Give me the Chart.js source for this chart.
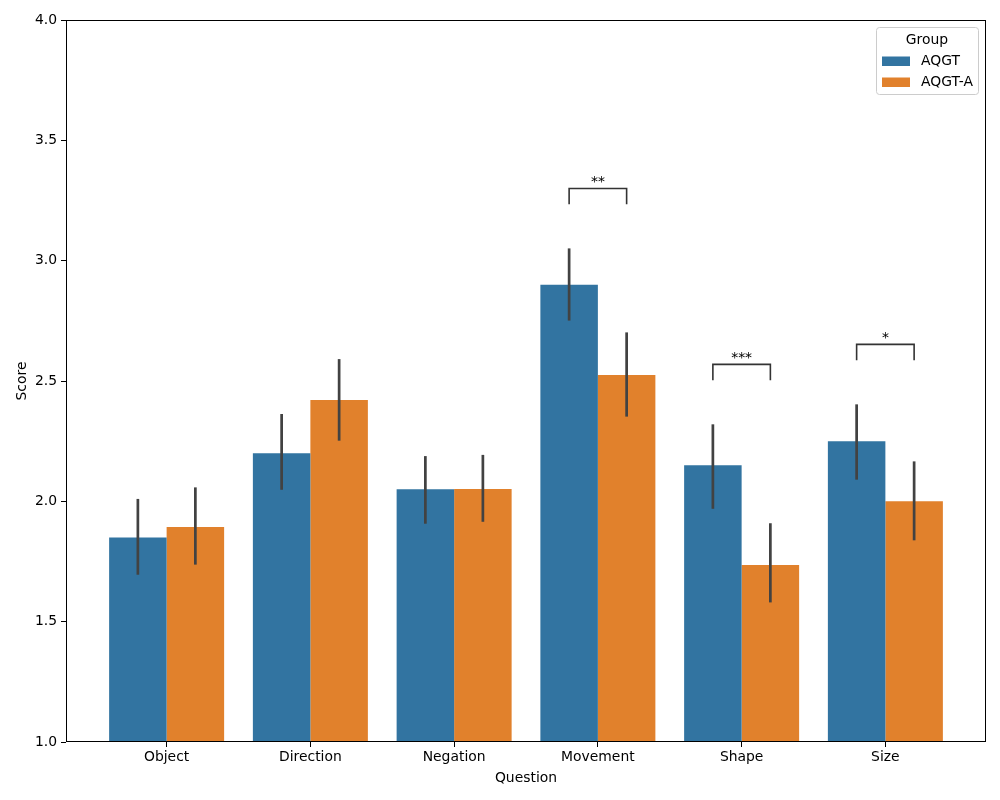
<!DOCTYPE html>
<html>
<head>
<meta charset="utf-8">
<script src="https://cdn.jsdelivr.net/npm/chart.js@4"></script>
<style>html,body{margin:0;padding:0;background:#fff;}canvas{display:block;}</style>
</head>
<body>
<canvas id="c" width="1000" height="800"></canvas>
<script>
const categories = ['Object', 'Direction', 'Negation', 'Movement', 'Shape', 'Size'];
const groupNames = ['AQGT', 'AQGT-A'];
const aqgtMean = [1.85, 2.20, 2.05, 2.90, 2.15, 2.25];
const aqgtLow  = [1.695, 2.048, 1.907, 2.751, 1.969, 2.090];
const aqgtHigh = [2.010, 2.363, 2.188, 3.051, 2.320, 2.403];
const aqgtaMean = [1.893, 2.421, 2.051, 2.525, 1.735, 2.00];
const aqgtaLow  = [1.737, 2.252, 1.915, 2.352, 1.580, 1.838];
const aqgtaHigh = [2.058, 2.591, 2.193, 2.702, 1.909, 2.166];
const sigCategories = ['Movement', 'Shape', 'Size'];
const sigLabels = ['**', '***', '*'];
const yTicks = [1.0, 1.5, 2.0, 2.5, 3.0, 3.5, 4.0];

const BLUE = '#3274a1', ORANGE = '#e1812c';
const FONT = 'DejaVu Sans';
const FS = 13.9;

const overlay = {
  id: 'overlay',
  afterDatasetsDraw(chart) {
    const ctx = chart.ctx, ys = chart.scales.y;
    const lows = [aqgtLow, aqgtaLow], highs = [aqgtHigh, aqgtaHigh];
    ctx.save();
    // error bars
    ctx.strokeStyle = '#424242';
    ctx.lineWidth = 2.7;
    ctx.lineCap = 'butt';
    for (let d = 0; d < 2; d++) {
      const meta = chart.getDatasetMeta(d);
      meta.data.forEach((bar, j) => {
        ctx.beginPath();
        ctx.moveTo(bar.x, ys.getPixelForValue(lows[d][j]));
        ctx.lineTo(bar.x, ys.getPixelForValue(highs[d][j]));
        ctx.stroke();
      });
    }
    // significance brackets
    ctx.strokeStyle = '#333333';
    ctx.lineWidth = 1.6;
    ctx.fillStyle = '#000';
    ctx.font = FS + 'px "' + FONT + '"';
    ctx.textAlign = 'center';
    ctx.textBaseline = 'alphabetic';
    sigCategories.forEach((cat, k) => {
      const j = categories.indexOf(cat);
      const x1 = chart.getDatasetMeta(0).data[j].x;
      const x2 = chart.getDatasetMeta(1).data[j].x;
      const top = Math.max(aqgtHigh[j], aqgtaHigh[j]);
      const yb = ys.getPixelForValue(top + 0.183);
      const yt = ys.getPixelForValue(top + 0.249);
      ctx.beginPath();
      ctx.moveTo(x1, yb); ctx.lineTo(x1, yt); ctx.lineTo(x2, yt); ctx.lineTo(x2, yb);
      ctx.stroke();
      ctx.fillText(sigLabels[k], (x1 + x2) / 2, yt - 2.5);
    });
    ctx.restore();
  },
  afterDraw(chart) {
    const ctx = chart.ctx, a = chart.chartArea;
    ctx.save();
    // frame
    ctx.strokeStyle = '#000';
    ctx.lineWidth = 1;
    ctx.strokeRect(Math.round(a.left) + 0.5, Math.round(a.top) + 0.5, Math.round(a.right - a.left) - 1, Math.round(a.bottom - a.top) - 1);
    // legend
    const lx = a.right - 110, ly = a.top + 7, lw = 102, lh = 67;
    ctx.fillStyle = 'rgba(255,255,255,0.8)';
    ctx.strokeStyle = '#cccccc';
    ctx.lineWidth = 1;
    ctx.beginPath();
    ctx.roundRect(lx + 0.5, ly + 0.5, lw, lh, 3);
    ctx.fill(); ctx.stroke();
    ctx.fillStyle = '#000';
    ctx.font = FS + 'px "' + FONT + '"';
    ctx.textAlign = 'center';
    ctx.textBaseline = 'middle';
    ctx.fillText('Group', lx + lw / 2, ly + 13);
    const cols = [BLUE, ORANGE];
    ctx.textAlign = 'left';
    groupNames.forEach((g, i) => {
      const ey = ly + 34 + i * 21;
      ctx.fillStyle = cols[i];
      ctx.fillRect(lx + 6, ey - 4.5, 28, 9.5);
      ctx.fillStyle = '#000';
      ctx.fillText(g, lx + 45, ey);
    });
    ctx.restore();
  }
};

new Chart(document.getElementById('c'), {
  type: 'bar',
  data: {
    datasets: [
      { label: groupNames[0], data: aqgtMean.map((v, i) => ({ x: i, y: v })), backgroundColor: BLUE, borderWidth: 0 },
      { label: groupNames[1], data: aqgtaMean.map((v, i) => ({ x: i, y: v })), backgroundColor: ORANGE, borderWidth: 0 }
    ]
  },
  options: {
    responsive: false,
    animation: false,
    devicePixelRatio: 1,
    categoryPercentage: 0.8,
    barPercentage: 1.0,
    layout: { padding: { top: 20, right: 14, left: 0, bottom: 0 } },
    plugins: { legend: { display: false }, tooltip: { enabled: false } },
    scales: {
      x: {
        type: 'linear',
        min: -0.7, max: 5.7,
        offset: false,
        afterBuildTicks: (s) => { s.ticks = categories.map((c, i) => ({ value: i })); },
        afterFit: (s) => { s.height = 58; },
        grid: { display: true, offset: false, drawOnChartArea: false, drawTicks: true, tickLength: 5, color: '#000' },
        border: { display: false },
        ticks: {
          autoSkip: false, maxRotation: 0, padding: 2, color: '#000',
          font: { family: FONT, size: FS },
          callback: (v) => categories[v]
        },
        title: { display: true, text: 'Question', color: '#000', font: { family: FONT, size: FS }, padding: { top: 0, bottom: 13.7 } }
      },
      y: {
        type: 'linear',
        min: 1, max: 4,
        afterBuildTicks: (s) => { s.ticks = yTicks.map(v => ({ value: v })); },
        afterFit: (s) => { s.width = 66; },
        grid: { display: true, offset: false, drawOnChartArea: false, drawTicks: true, tickLength: 5, color: '#000' },
        border: { display: false },
        ticks: {
          padding: 4, color: '#000',
          font: { family: FONT, size: FS },
          callback: (v) => Number(v).toFixed(1)
        },
        title: { display: true, text: 'Score', color: '#000', font: { family: FONT, size: FS }, padding: { top: 13.7, bottom: 0 } }
      }
    }
  },
  plugins: [overlay]
});
</script>
</body>
</html>
